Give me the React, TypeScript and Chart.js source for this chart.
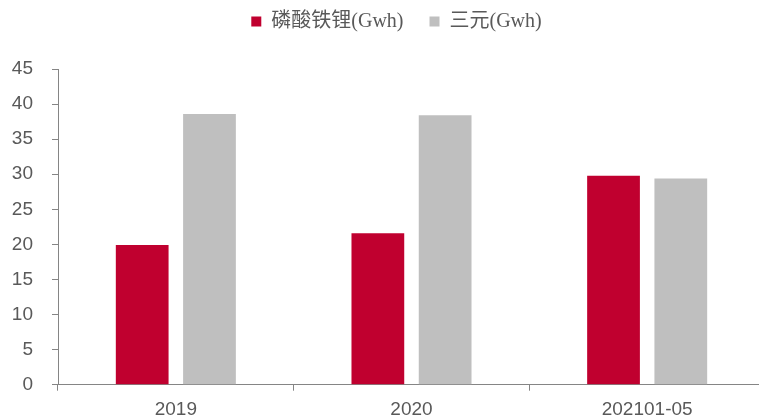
import React, { useEffect, useRef } from "react";
import { Chart, registerables } from "chart.js";

Chart.register(...registerables);

const categories = ["2019", "2020", "202101-05"];
const lfpValues = [19.9, 21.6, 29.8];
const ncmValues = [38.6, 38.4, 29.4];
const seriesNames = ["磷酸铁锂(Gwh)", "三元(Gwh)"];
const yTickMin = 0;
const yTickMax = 45;
const yTickStep = 5;

const RED = "#C0002F";
const GREY = "#BFBFBF";
const AXIS = "#858585";
const TEXT = "#595959";

export default function App() {
  const ref = useRef<HTMLCanvasElement | null>(null);

  useEffect(() => {
    document.body.style.margin = "0";
    document.body.style.overflow = "hidden";
    const canvas = ref.current;
    if (!canvas) return;

    const legendTweak = {
      id: "legendTweak",
      beforeInit(chart: any) {
        const legend = chart.legend;
        if (legend) {
          const origFit = legend.fit;
          legend.fit = function () {
            origFit.call(this);
            this.height += 27.5;
          };
        }
      },
      afterLayout(chart: any) {
        const legend = chart.legend;
        if (legend) {
          legend.left += 14;
          legend.right += 14;
        }
      },
    };

    const chart = new Chart(canvas, {
      type: "bar",
      data: {
        labels: categories,
        datasets: [
          {
            label: seriesNames[0],
            data: lfpValues,
            backgroundColor: RED,
            borderWidth: 0,
            categoryPercentage: 0.571,
            barPercentage: 0.784,
          },
          {
            label: seriesNames[1],
            data: ncmValues,
            backgroundColor: GREY,
            borderWidth: 0,
            categoryPercentage: 0.571,
            barPercentage: 0.784,
          },
        ],
      },
      options: {
        responsive: false,
        animation: false,
        devicePixelRatio: 1,
        layout: { padding: { left: 0, right: 0, top: -14.5, bottom: 0 } },
        plugins: {
          legend: {
            display: true,
            position: "top",
            align: "center",
            labels: {
              boxWidth: 10,
              boxHeight: 10,
              padding: 26,
              color: TEXT,
              font: {
                family: '"Liberation Serif", "Noto Sans CJK SC", serif',
                size: 20,
              },
            },
          },
          tooltip: { enabled: false },
        },
        scales: {
          x: {
            offset: true,
            grid: {
              display: true,
              offset: true,
              drawOnChartArea: false,
              drawTicks: true,
              tickLength: 6,
              color: AXIS,
            },
            border: { display: true, color: AXIS, width: 1 },
            ticks: {
              color: TEXT,
              padding: 8,
              font: { family: '"Liberation Sans", Arial, sans-serif', size: 19 },
            },
            afterFit(scale: any) {
              scale.height = 34.3;
            },
          },
          y: {
            min: yTickMin,
            max: yTickMax,
            grid: {
              display: true,
              drawOnChartArea: false,
              drawTicks: true,
              tickLength: 6,
              color: AXIS,
            },
            border: { display: true, color: AXIS, width: 1 },
            ticks: {
              stepSize: yTickStep,
              color: TEXT,
              padding: 19,
              font: { family: '"Liberation Sans", Arial, sans-serif', size: 19 },
            },
            afterFit(scale: any) {
              scale.width = 58;
            },
          },
        },
      },
      plugins: [legendTweak],
    });

    return () => chart.destroy();
  }, []);

  return (
    <div
      style={{
        position: "absolute",
        left: 0,
        top: 0,
        width: 759,
        height: 419,
        overflow: "hidden",
        background: "#fff",
      }}
    >
      <canvas
        ref={ref}
        width={765}
        height={419}
        style={{ width: 765, height: 419, display: "block" }}
      />
    </div>
  );
}
